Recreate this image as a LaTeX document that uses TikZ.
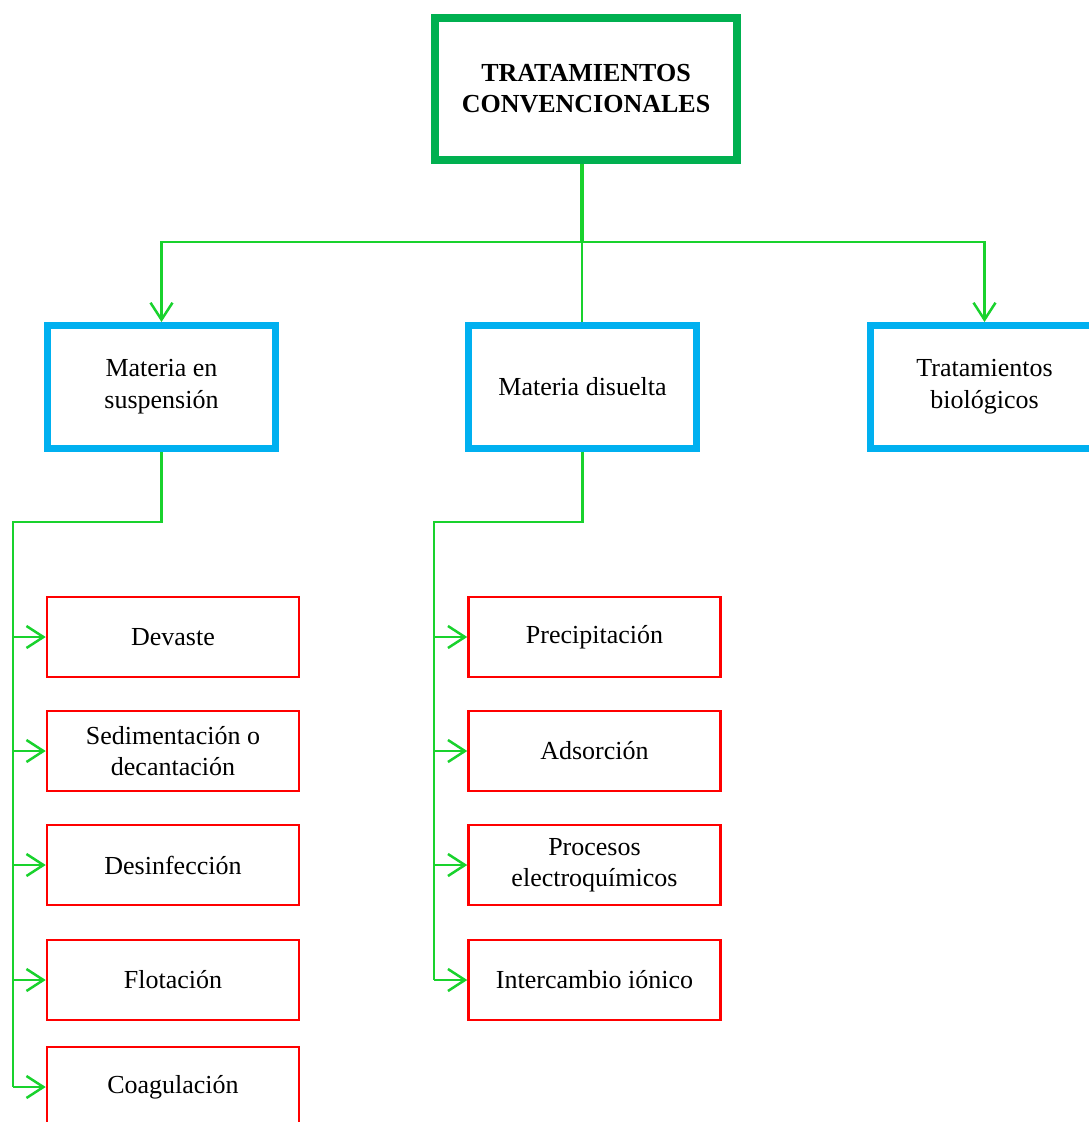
\documentclass[tikz,border=0pt]{standalone}
\usepackage{fontspec}
\setmainfont{Liberation Serif}
\usetikzlibrary{arrows.meta}
\definecolor{topgreen}{RGB}{0,176,80}
\definecolor{linegreen}{RGB}{25,210,45}
\definecolor{boxblue}{RGB}{0,176,240}
\definecolor{boxred}{RGB}{255,0,0}
\begin{document}
\begin{tikzpicture}[x=1pt,y=-1pt,
  topbox/.style={draw=topgreen,line width=8pt,minimum width=302pt,minimum height=142pt,align=center,font=\fontsize{26}{31}\selectfont\bfseries,inner sep=0pt},
  bluebox/.style={draw=boxblue,line width=7pt,minimum width=228pt,minimum height=123pt,align=center,font=\fontsize{26}{32}\selectfont,inner sep=0pt},
  redbox/.style={draw=boxred,line width=2.5pt,minimum width=252pt,minimum height=80pt,align=center,font=\fontsize{26}{31}\selectfont,inner sep=0pt},
  conn/.style={draw=linegreen,line width=2.5pt},
  arr/.style={conn,-{Straight Barb[length=17pt,width=22pt]}}]
\useasboundingbox (0,0) rectangle (1089,1122);
\clip (0,0) rectangle (1089,1122);
\node[topbox] (top) at (586,89) {TRATAMIENTOS\\CONVENCIONALES};
\node[bluebox] (mes) at (161.5,387) {Materia en\\suspensión};
\node[bluebox] (mdi) at (582.5,387) {Materia disuelta};
\node[bluebox] (tbi) at (984.5,387) {Tratamientos\\biológicos};
\node[redbox] (r1) at (173,637) {Devaste};
\node[redbox] (r2) at (173,751) {Sedimentación o\\decantación};
\node[redbox] (r3) at (173,865) {Desinfección};
\node[redbox] (r4) at (173,980) {Flotación};
\node[redbox] (r5) at (173,1087) {Coagulación};
\node[redbox] (p1) at (594.5,637) {Precipitación};
\node[redbox] (p2) at (594.5,751) {Adsorción};
\node[redbox] (p3) at (594.5,865) {Procesos\\electroquímicos};
\node[redbox] (p4) at (594.5,980) {Intercambio iónico};
% top branches
\coordinate (j0) at (582,242);
\draw[conn,line width=3.5pt] (top.south -| j0) -- (j0);
\draw[conn,line width=2pt] (j0) -- (mdi.north -| j0);
\draw[arr] (j0) -| (mes.north);
\draw[arr] (j0) -| (tbi.north);
% left branch
\coordinate (ja) at (161.5,522);
\coordinate (la) at (13,522);
\draw[conn] (mes.south) -- (ja) -- (la) -- (la |- r5.west);
\foreach \n in {r1,r2,r3,r4,r5}{\draw[arr] (la |- \n.west) -- (\n.west);}
% middle branch
\coordinate (jb) at (582.5,522);
\coordinate (lb) at (434,522);
\draw[conn] (mdi.south) -- (jb) -- (lb) -- (lb |- p4.west);
\foreach \n in {p1,p2,p3,p4}{\draw[arr] (lb |- \n.west) -- (\n.west);}
\end{tikzpicture}
\end{document}
